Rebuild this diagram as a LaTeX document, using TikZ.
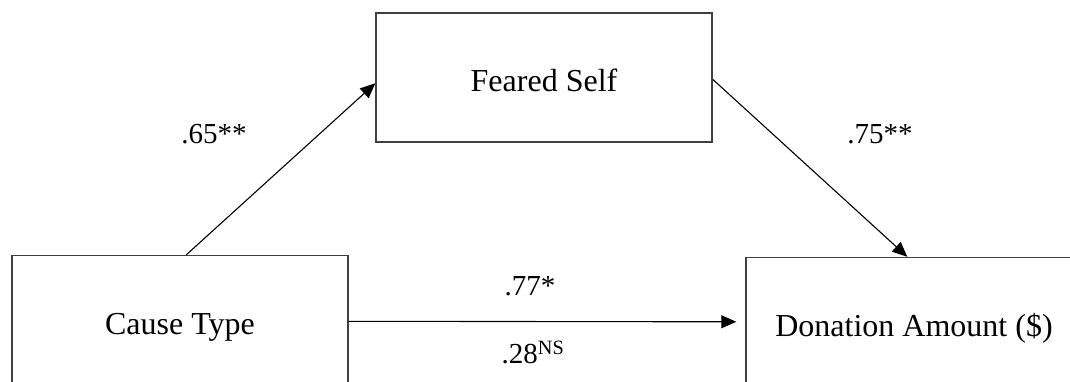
\documentclass[tikz,border=0pt]{standalone}
\usepackage{fontspec}
\setmainfont{Liberation Serif}
\usetikzlibrary{arrows.meta,calc}
\begin{document}
\begin{tikzpicture}[x=1pt,y=-1pt,
  box/.style={draw=black!75,line width=1.4pt,rectangle,minimum width=336pt,minimum height=129pt,inner sep=0pt,text height=28pt,text depth=0pt,font=\fontsize{32}{38}\selectfont},
  arr/.style={draw=black,line width=1.1pt,-{Triangle[length=15pt,width=13pt]}},
  lab/.style={font=\fontsize{29}{34}\selectfont,inner sep=0pt}]
\useasboundingbox (0,0) rectangle (1070,381);
\fill[white] (0,0) rectangle (1070,381);
\node[box] (feared) at (544,77.5) {Feared Self};
\node[box] (cause) at (180,320) {Cause Type};
\node[box] (donation) at (914,322) {Donation Amount (\$)};
\draw[arr] ($(cause.north west)+(175,0)$) -- ($(feared.north west)+(0,71)$);
\draw[arr] ($(feared.north east)+(0,67)$) -- ($(donation.north west)+(162,0)$);
\draw[arr] ($(cause.north east)+(0,66.5)$) -- ($(donation.north west)+(-9,65)$);
\node[lab] (l65) at (214,134) {.65**};
\node[lab] (l75) at (880,134) {.75**};
\node[lab] (l77) at (530,286) {.77*};
\node[lab] (l28) at (533,352) {.28\textsuperscript{NS}};
\end{tikzpicture}
\end{document}
